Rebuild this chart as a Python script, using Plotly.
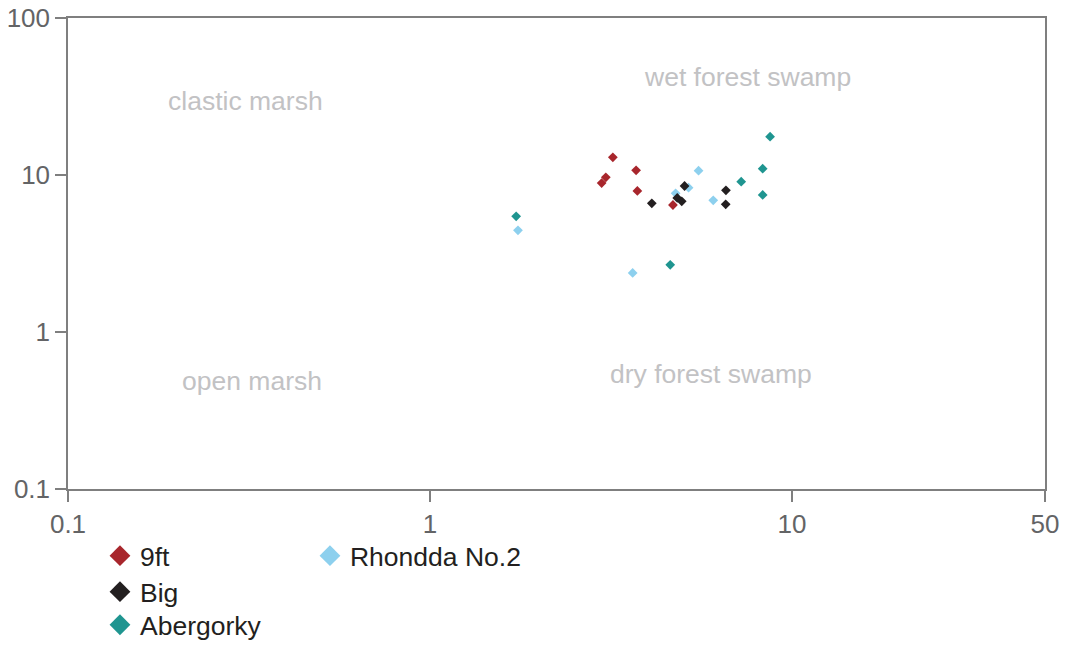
import math
import plotly.graph_objects as go

# Sample series: x and y ratios for each seam
series_names = ["9ft", "Big", "Abergorky", "Rhondda No.2"]
series_colors = ["#a8262c", "#231f20", "#1f9590", "#8dd0ee"]

x_9ft = [3.20, 3.06, 2.98, 3.71, 3.74, 4.69]
y_9ft = [12.96, 9.67, 8.89, 10.71, 7.91, 6.44]

x_big = [4.10, 5.05, 4.82, 4.96, 6.57, 6.56]
y_big = [6.60, 8.51, 7.14, 6.80, 7.99, 6.51]

x_aber = [1.73, 4.61, 7.24, 8.30, 8.30, 8.70]
y_aber = [5.46, 2.68, 9.07, 10.97, 7.46, 17.54]

x_rhon = [1.75, 3.63, 4.77, 5.18, 5.52, 6.06]
y_rhon = [4.44, 2.38, 7.65, 8.30, 10.65, 6.90]

x_ticks = [0.1, 1, 10, 50]
x_tick_text = ["0.1", "1", "10", "50"]
y_ticks = [0.1, 1, 10, 100]
y_tick_text = ["0.1", "1", "10", "100"]

zone_labels = ["clastic marsh", "wet forest swamp", "open marsh", "dry forest swamp"]
# label centres in data units
zone_x = [0.31, 7.55, 0.322, 5.97]
zone_y = [29.6, 42.1, 0.488, 0.54]

FONT = "Liberation Sans, Arial, sans-serif"

fig = go.Figure()

xs = [x_9ft, x_big, x_aber, x_rhon]
ys = [y_9ft, y_big, y_aber, y_rhon]

# Draw Rhondda first so the others sit on top where they overlap
draw_order = [3, 0, 1, 2]
for i in draw_order:
    fig.add_trace(go.Scatter(
        x=xs[i], y=ys[i], mode="markers", name=series_names[i],
        marker=dict(symbol="diamond", size=7.5, color=series_colors[i]),
        showlegend=False,
    ))

# One legend box per entry: two columns below the plot
legend_ids = ["legend", "legend2", "legend3", "legend4"]
legend_pos = [(0.0937, 0.1752), (0.0937, 0.1194), (0.0937, 0.0682), (0.2905, 0.1752)]
legend_font = dict(family=FONT, size=26.5, color="#231f20")
legend_layout = {}
for i in range(4):
    fig.add_trace(go.Scatter(
        x=[None], y=[None], mode="markers", name=series_names[i],
        marker=dict(symbol="diamond", size=16, color=series_colors[i]),
        legend=legend_ids[i], showlegend=True,
    ))
    lx, ly = legend_pos[i]
    legend_layout[legend_ids[i]] = dict(
        x=lx, y=ly, xref="container", yref="container",
        xanchor="left", yanchor="top", orientation="v",
        font=legend_font, bgcolor="rgba(0,0,0,0)",
    )

# Quadrant dividers
fig.add_shape(type="line", xref="x", yref="paper", x0=0, x1=0, y0=0, y1=1,
              line=dict(color="#c4c4c4", width=1, dash="dot"), layer="below")
fig.add_shape(type="line", xref="paper", yref="y", x0=0, x1=1, y0=0, y1=0,
              line=dict(color="#c4c4c4", width=1, dash="dot"), layer="below")

for t, zx, zy in zip(zone_labels, zone_x, zone_y):
    fig.add_annotation(x=math.log10(zx), y=math.log10(zy), xref="x", yref="y",
                       text=t, showarrow=False,
                       font=dict(family=FONT, size=26.5, color="#c2c2c4"))

axis_common = dict(
    type="log", showgrid=False, zeroline=False, automargin=False,
    showline=True, linecolor="#7f7f7f", linewidth=1.5, mirror=True,
    ticks="outside", ticklen=11, tickwidth=1.5, tickcolor="#7f7f7f",
    tickfont=dict(family=FONT, size=26, color="#636466"),
)

fig.update_xaxes(range=[-1, math.log10(50)], tickvals=x_ticks, ticktext=x_tick_text, **axis_common)
fig.update_yaxes(range=[-1, 2], tickvals=y_ticks, ticktext=y_tick_text, **axis_common)

fig.update_layout(
    width=1067, height=645,
    margin=dict(l=68, r=22, t=18, b=156, autoexpand=False),
    plot_bgcolor="white", paper_bgcolor="white",
    **legend_layout,
)

fig.write_html("out.html")
